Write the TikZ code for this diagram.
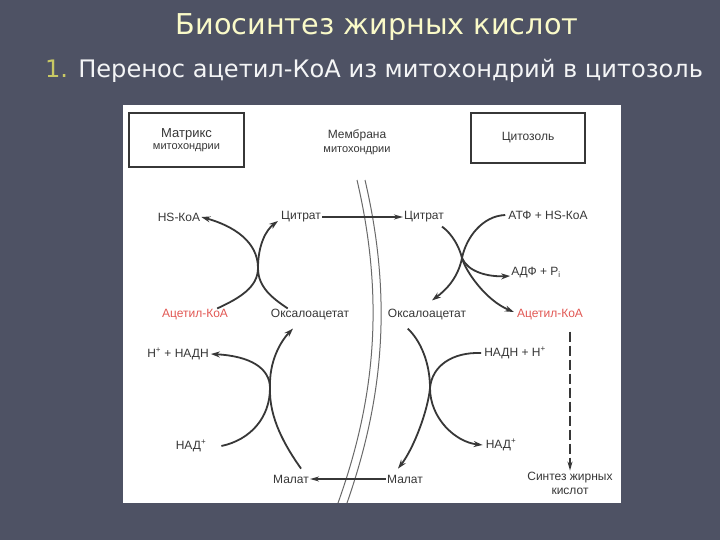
\documentclass[tikz,border=0pt]{standalone}
\usepackage{fontspec}
\setmainfont{Liberation Sans}
\newfontfamily\headfont{DejaVu Sans}
\usetikzlibrary{arrows.meta}

\definecolor{slate}{RGB}{78,82,100}
\definecolor{titlecol}{RGB}{250,250,200}
\definecolor{numcol}{RGB}{200,200,100}
\definecolor{ink}{RGB}{55,55,55}
\definecolor{acred}{RGB}{226,88,84}

\begin{document}
\begin{tikzpicture}[x=1pt, y=-1pt,
  lbl/.style={text=ink, inner sep=1pt, font=\fontsize{12}{14}\selectfont},
  boxlbl/.style={draw=ink, line width=1.8pt, align=center, text=ink},
  rxn/.style={draw=ink, line width=1.8pt, -{Stealth[length=9pt,width=6pt]}},
  hrx/.style={draw=ink, line width=1.4pt, -{Stealth[length=9pt,width=5pt]}},
  memline/.style={draw=ink!75, line width=1pt}]
  \useasboundingbox (0,0) rectangle (720,540);
  \fill[slate] (0,0) rectangle (720,540);
  \fill[white] (123,105) rectangle (621,503);

  % Title
  \node[anchor=base, text=titlecol, font=\headfont\fontsize{28.7}{32}\selectfont] (title) at (377,35) {Биосинтез жирных кислот};
  \node[anchor=base, text=white!94!slate, font=\headfont\fontsize{24.1}{28}\selectfont] (subtitle) at (374,78)
    {\textcolor{numcol}{1.} Перенос ацетил-КоА из митохондрий в цитозоль};

  % Compartment labels
  \node[boxlbl, minimum width=115pt, minimum height=54pt] (matrixbox) at (186.5,140)
    {{\fontsize{13}{15}\selectfont Матрикс}\\{\fontsize{11}{13}\selectfont митохондрии}};
  \node[boxlbl, minimum width=114pt, minimum height=50pt] (cytobox) at (528,138)
    {\fontsize{12}{14}\selectfont Цитозоль};
  \node[lbl, align=center] (membrane) at (357,142)
    {Мембрана\\{\fontsize{11}{13}\selectfont митохондрии}};

  % Membrane
  \draw[memline] (357,180) .. controls (385,300) and (375,400) .. (338,503);
  \draw[memline] (365,180) .. controls (393,300) and (383,400) .. (347,503);

  % Matrix side
  \node[lbl] (hscoa) at (179,217) {HS-КоА};
  \node[lbl] (citL) at (301,217) {Цитрат};
  \node[lbl, text=acred] (acL) at (195,315) {Ацетил-КоА};
  \node[lbl] (oaaL) at (310,315) {Оксалоацетат};
  \node[lbl] (nadhL) at (178,354) {H\textsuperscript{+} + НАДН};
  \node[lbl] (nadL) at (191,446) {НАД\textsuperscript{+}};
  \node[lbl] (malL) at (291,479) {Малат};

  % Cytosol side
  \node[lbl] (citR) at (424,217) {Цитрат};
  \node[lbl] (atp) at (548,215) {АТФ + HS-КоА};
  \node[lbl] (adp) at (536,273) {АДФ + P\textsubscript{i}};
  \node[lbl] (oaaR) at (427,315) {Оксалоацетат};
  \node[lbl, text=acred] (acR) at (550,315) {Ацетил-КоА};
  \node[lbl] (nadhR) at (515,353) {НАДН + H\textsuperscript{+}};
  \node[lbl] (nadR) at (501,445) {НАД\textsuperscript{+}};
  \node[lbl] (malR) at (405,479) {Малат};
  \node[lbl, align=center] (synth) at (570,483) {Синтез жирных\\кислот};

  % Crossing points
  \coordinate (xTL) at (258,268);
  \coordinate (xTR) at (462,258);
  \coordinate (xBL) at (270,388);
  \coordinate (xBR) at (430,388);

  % Citrate synthase (matrix)
  \draw[rxn] ([xshift=-12pt]acL.north east) .. controls (240,298) and (258,287) .. (xTL)
     .. controls (258,242) and (234,226) .. (hscoa.east);
  \draw[rxn] ([xshift=18pt]oaaL.north west) .. controls (272,298) and (258,287) .. (xTL)
     .. controls (258,245) and (266,230) .. ([xshift=-2pt,yshift=-4pt]citL.west);

  % Transport across membrane
  \draw[hrx] (citL) -- (citR);
  \draw[hrx] (malR) -- (malL);

  % Citrate lyase (cytosol)
  \draw[rxn] ([xshift=-3pt,yshift=-3pt]citR.south east) .. controls (452,234) and (459,246) .. (xTR)
     .. controls (465,270) and (485,300) .. ([xshift=-2pt,yshift=3pt]acR.west);
  \draw[rxn] ([xshift=-2pt]atp.west) .. controls (482,216) and (466,238) .. (xTR)
     .. controls (458,278) and (446,290) .. ([xshift=5pt,yshift=8pt]oaaR.north);
  \draw[rxn] (xTR) .. controls (468,272) and (488,277) .. ([yshift=-3pt]adp.west);

  % Malate dehydrogenase (cytosol)
  \draw[rxn] ([xshift=21pt,yshift=-7pt]oaaR.south west) .. controls (420,340) and (430,362) .. (xBR)
     .. controls (430,418) and (455,442) .. ([xshift=-2pt]nadR.west);
  \draw[rxn] ([xshift=-2pt]nadhR.west) .. controls (452,352) and (432,366) .. (xBR)
     .. controls (428,410) and (414,448) .. ([xshift=-7pt,yshift=5pt]malR.north);

  % Malate dehydrogenase (matrix)
  \draw[rxn] ([xshift=14pt]nadL.east) .. controls (250,440) and (270,418) .. (xBL)
     .. controls (270,368) and (250,356) .. ([xshift=1pt]nadhL.east);
  \draw[rxn] ([xshift=-9pt,yshift=5pt]malL.north east) .. controls (285,446) and (269,418) .. (xBL)
     .. controls (269,362) and (280,342) .. ([xshift=-17pt,yshift=-7pt]oaaL.south);

  % Acetyl-CoA to fatty acid synthesis
  \draw[ink, line width=1.3pt, dash pattern=on 10pt off 4pt, -{Stealth[length=9pt,width=5pt]},
     shorten <=10pt] (acR.south -| synth.north) -- (synth.north);
\end{tikzpicture}
\end{document}
